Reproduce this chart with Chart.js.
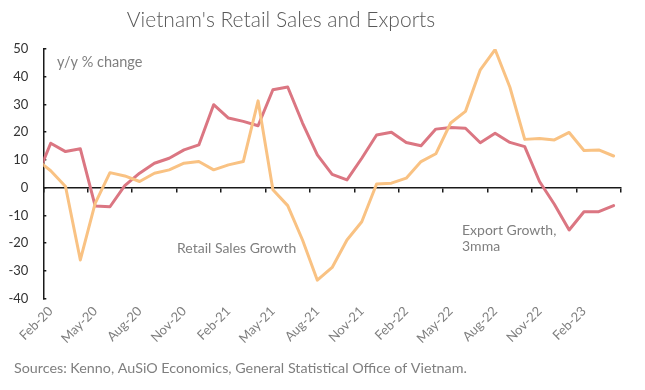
<!DOCTYPE html>
<html><head><meta charset="utf-8">
<script src="https://cdn.jsdelivr.net/npm/chart.js@4"></script>
<style>html,body{margin:0;padding:0;background:#fff}#wrap{width:645px;height:390px;position:relative}</style>
</head><body><div id="wrap"><canvas id="c" width="645" height="390"></canvas></div>
<script>
const months = ["Jan-20","Feb-20","Mar-20","Apr-20","May-20","Jun-20","Jul-20","Aug-20","Sep-20","Oct-20","Nov-20","Dec-20",
  "Jan-21","Feb-21","Mar-21","Apr-21","May-21","Jun-21","Jul-21","Aug-21","Sep-21","Oct-21","Nov-21","Dec-21",
  "Jan-22","Feb-22","Mar-22","Apr-22","May-22","Jun-22","Jul-22","Aug-22","Sep-22","Oct-22","Nov-22","Dec-22",
  "Jan-23","Feb-23","Mar-23","Apr-23"];
const retailSalesGrowth = [10.3, 6.1, 0.4, -26.1, -5.7, 5.4, 4.2, 2.2, 5.2, 6.4, 8.8, 9.4,
  6.4, 8.2, 9.4, 31.3, -0.8, -6.5, -18.9, -33.4, -28.8, -18.9, -12.3, 1.3,
  1.6, 3.4, 9.4, 12.2, 23.3, 27.5, 42.5, 49.8, 36.2, 17.4, 17.7, 17.2,
  19.9, 13.4, 13.6, 11.4];
const exportGrowth3mma = [3.0, 16.0, 13.0, 14.0, -6.6, -6.9, 0.7, 5.2, 8.8, 10.6, 13.6, 15.4,
  29.9, 25.1, 23.9, 22.3, 35.3, 36.3, 23.3, 11.8, 4.8, 2.8, 10.6, 19.0,
  20.0, 16.3, 15.1, 21.1, 21.7, 21.4, 16.2, 19.6, 16.3, 14.8, 2.2, -6.0,
  -15.3, -8.7, -8.7, -6.5];
const tickLabels = ["Feb-20","May-20","Aug-20","Nov-20","Feb-21","May-21","Aug-21","Nov-21","Feb-22","May-22","Aug-22","Nov-22","Feb-23"];
const yTicks = [50, 40, 30, 20, 10, 0, -10, -20, -30, -40];

const FONT = "Lato, 'Open Sans', sans-serif";
const firstIdx = months.indexOf("Feb-20");
const xMin = firstIdx - 0.5, xMax = months.length - 0.5;
const boundaryTicks = tickLabels.map(l => months.indexOf(l) - 0.5).concat([xMax]);

const textPlugin = {
  id: 'texts',
  afterDraw(chart) {
    const ctx = chart.ctx;
    ctx.save();
    ctx.textBaseline = 'alphabetic';
    ctx.fillStyle = '#595959';
    ctx.font = "300 21px " + FONT;
    ctx.textAlign = 'center';
    ctx.fillText("Vietnam's Retail Sales and Exports", 281, 27);
    ctx.textAlign = 'left';
    ctx.fillStyle = '#7f7f7f';
    ctx.font = "14.5px " + FONT;
    ctx.fillText("y/y % change", 57, 67);
    ctx.font = "14px " + FONT;
    ctx.fillText("Retail Sales Growth", 177, 253);
    ctx.fillText("Export Growth,", 462, 235);
    ctx.fillText("3mma", 462, 251);
    ctx.font = "14.3px " + FONT;
    ctx.fillText("Sources: Kenno, AuSiO Economics, General Statistical Office of Vietnam.", 14, 373);
    ctx.restore();
  }
};

new Chart(document.getElementById('c'), {
  type: 'line',
  data: {
    datasets: [
      { label: 'Retail Sales Growth', data: months.map((m, i) => ({x: i, y: retailSalesGrowth[i]})),
        borderColor: '#F9C283', borderWidth: 3, pointRadius: 0, tension: 0, xAxisID: 'x', yAxisID: 'y',
        borderJoinStyle: 'round', borderCapStyle: 'round' },
      { label: 'Export Growth, 3mma', data: months.map((m, i) => ({x: i, y: exportGrowth3mma[i]})),
        borderColor: '#DB7682', borderWidth: 3, pointRadius: 0, tension: 0, xAxisID: 'x', yAxisID: 'y',
        borderJoinStyle: 'round', borderCapStyle: 'round' }
    ]
  },
  options: {
    responsive: false, animation: false, devicePixelRatio: 1,
    layout: { padding: { top: 49, right: 24, left: 0, bottom: 0 } },
    plugins: { legend: { display: false }, title: { display: false }, tooltip: { enabled: false } },
    scales: {
      x: {
        type: 'linear', position: 'bottom', min: xMin, max: xMax,
        afterBuildTicks: s => { s.ticks = tickLabels.map(l => ({ value: months.indexOf(l) })); },
        afterFit: s => { s.height = 91.5; },
        grid: { display: false, drawTicks: false }, border: { display: false },
        ticks: { autoSkip: false, minRotation: 45, maxRotation: 45, padding: 5, color: '#7f7f7f',
          font: { family: FONT, size: 13 }, callback: v => months[v] }
      },
      x2: {
        type: 'linear', position: { y: 0 }, min: xMin, max: xMax,
        afterBuildTicks: s => { s.ticks = boundaryTicks.map(v => ({ value: v })); },
        grid: { drawOnChartArea: false, drawTicks: true, tickLength: 4, color: '#1a1a1a', lineWidth: 1.5 },
        border: { display: true, color: '#1a1a1a', width: 1.5 },
        ticks: { display: false }
      },
      y: {
        min: -40, max: 50,
        afterBuildTicks: s => { s.ticks = yTicks.map(v => ({ value: v })); },
        afterFit: s => { s.width = 43.3; },
        grid: { drawOnChartArea: false, drawTicks: true, tickLength: -3, color: '#1a1a1a', lineWidth: 1.5 },
        border: { color: '#1a1a1a', width: 1.5 },
        ticks: { padding: 18, color: '#333333', font: { family: FONT, size: 13 } }
      }
    }
  },
  plugins: [textPlugin]
});
</script></body></html>
